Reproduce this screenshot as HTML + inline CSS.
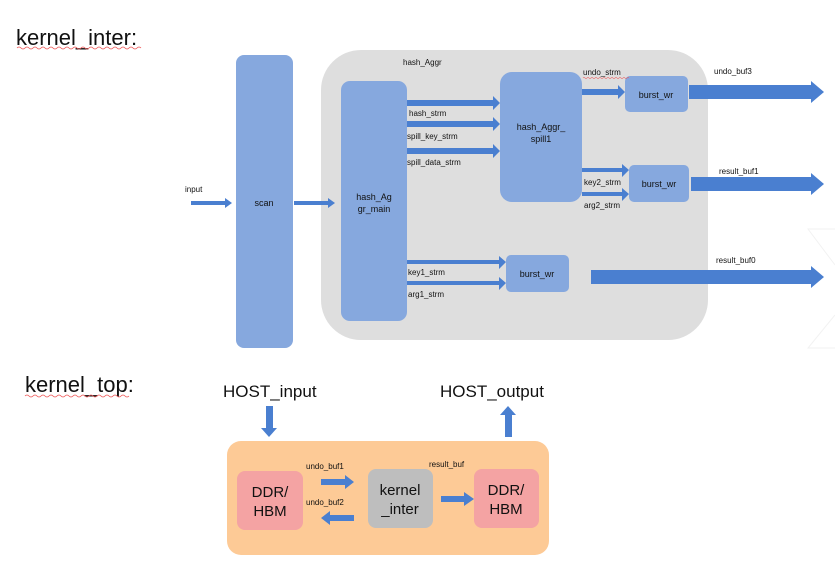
<!DOCTYPE html>
<html><head><meta charset="utf-8"><style>
html,body{margin:0;padding:0;background:#fff;}
svg{display:block;}
text{font-family:"Liberation Sans",Arial,sans-serif;fill:#111;}
</style></head><body>
<svg width="835" height="574" viewBox="0 0 835 574" xmlns="http://www.w3.org/2000/svg">
<text x="16" y="45" font-size="22">kernel_inter:</text>
<text x="25" y="392" font-size="22">kernel_top:</text>
<path d="M17 48 q2 -2 4 0 t4 0 t4 0 t4 0 t4 0 t4 0 t4 0 t4 0 t4 0 t4 0 t4 0 t4 0 t4 0 t4 0 t4 0 t4 0 t4 0 t4 0 t4 0 t4 0 t4 0 t4 0 t4 0 t4 0 t4 0 t4 0 t4 0 t4 0 t4 0 t4 0 t4 0" stroke="#e55" stroke-width="0.8" fill="none"/>
<path d="M25 396 q2 -2 4 0 t4 0 t4 0 t4 0 t4 0 t4 0 t4 0 t4 0 t4 0 t4 0 t4 0 t4 0 t4 0 t4 0 t4 0 t4 0 t4 0 t4 0 t4 0 t4 0 t4 0 t4 0 t4 0 t4 0 t4 0 t4 0" stroke="#e55" stroke-width="0.8" fill="none"/>

<rect x="321" y="50" width="387" height="290" rx="40" fill="#dedede"/>
<rect x="236" y="55" width="57" height="293" rx="8" fill="#86a8de"/>
<text x="264" y="206" font-size="9" text-anchor="middle">scan</text>
<rect x="341" y="81" width="66" height="240" rx="9" fill="#86a8de"/>
<text x="374" y="200" font-size="9" text-anchor="middle">hash_Ag</text>
<text x="374" y="212" font-size="9" text-anchor="middle">gr_main</text>
<rect x="500" y="72" width="82" height="130" rx="12" fill="#86a8de"/>
<text x="541" y="130" font-size="9" text-anchor="middle">hash_Aggr_</text>
<text x="541" y="142" font-size="9" text-anchor="middle">spill1</text>
<rect x="625" y="76" width="63" height="36" rx="5" fill="#86a8de"/>
<text x="656" y="98" font-size="9" text-anchor="middle">burst_wr</text>
<rect x="629" y="165" width="60" height="37" rx="5" fill="#86a8de"/>
<text x="659" y="187" font-size="9" text-anchor="middle">burst_wr</text>
<rect x="506" y="255" width="63" height="37" rx="5" fill="#86a8de"/>
<text x="537" y="277" font-size="9" text-anchor="middle">burst_wr</text>

<g fill="#4a7fd0">
<polygon points="191,201 225,201 225,198 232,203 225,208 225,205 191,205"/>
<polygon points="294,201 328,201 328,198 335,203 328,208 328,205 294,205"/>
<polygon points="407,100 493,100 493,96 500,103 493,110 493,106 407,106"/>
<polygon points="407,121 493,121 493,117 500,124 493,131 493,127 407,127"/>
<polygon points="407,148 493,148 493,144 500,151 493,158 493,154 407,154"/>
<polygon points="582,89 618,89 618,85 625,92 618,99 618,95 582,95"/>
<polygon points="582,168 622,168 622,164 629,170 622,177 622,172 582,172"/>
<polygon points="582,192 622,192 622,188 629,194 622,201 622,196 582,196"/>
<polygon points="407,260 499,260 499,256 506,262 499,269 499,264 407,264"/>
<polygon points="407,281 499,281 499,277 506,283 499,290 499,285 407,285"/>
<polygon points="689,85 811,85 811,81 824,92 811,103 811,99 689,99"/>
<polygon points="691,177 811,177 811,173 824,184 811,195 811,191 691,191"/>
<polygon points="591,270 811,270 811,266 824,277 811,288 811,284 591,284"/>
</g>

<g font-size="8">
<text x="403" y="65">hash_Aggr</text>
<text x="583" y="75">undo_strm</text>
<text x="714" y="74">undo_buf3</text>
<text x="719" y="174">result_buf1</text>
<text x="716" y="263">result_buf0</text>
<text x="409" y="116">hash_strm</text>
<text x="407" y="139">spill_key_strm</text>
<text x="407" y="165">spill_data_strm</text>
<text x="584" y="185">key2_strm</text>
<text x="584" y="208">arg2_strm</text>
<text x="408" y="275">key1_strm</text>
<text x="408" y="297">arg1_strm</text>
<text x="185" y="192">input</text>
</g>
<path d="M583 78 q1 -1.5 2 0 t2 0 t2 0 t2 0 t2 0 t2 0 t2 0 t2 0 t2 0 t2 0 t2 0 t2 0 t2 0 t2 0 t2 0 t2 0 t2 0 t2 0 t2 0 t2 0 t2 0 t2 0 t2 0" stroke="#e55" stroke-width="0.6" fill="none"/>

<polyline points="835,229 808,229 835,265" stroke="#f2f2f2" fill="none"/>
<polyline points="835,315 808,348 835,348" stroke="#f2f2f2" fill="none"/>

<text x="223" y="397" font-size="17">HOST_input</text>
<text x="440" y="397" font-size="17">HOST_output</text>
<rect x="227" y="441" width="322" height="114" rx="14" fill="#fdca96"/>
<rect x="237" y="471" width="66" height="59" rx="8" fill="#f4a3a3"/>
<text x="270" y="497" font-size="15" text-anchor="middle">DDR/</text>
<text x="270" y="516" font-size="15" text-anchor="middle">HBM</text>
<rect x="368" y="469" width="65" height="59" rx="8" fill="#bebebe"/>
<text x="400" y="495" font-size="15" text-anchor="middle">kernel</text>
<text x="400" y="514" font-size="15" text-anchor="middle">_inter</text>
<rect x="474" y="469" width="65" height="59" rx="8" fill="#f4a3a3"/>
<text x="506" y="495" font-size="15" text-anchor="middle">DDR/</text>
<text x="506" y="514" font-size="15" text-anchor="middle">HBM</text>
<g font-size="8">
<text x="306" y="469">undo_buf1</text>
<text x="306" y="505">undo_buf2</text>
<text x="429" y="467">result_buf</text>
</g>
<g fill="#4a7fd0">
<polygon points="266,406 273,406 273,428 277,428 269,437 261,428 266,428"/>
<polygon points="505,437 512,437 512,415 516,415 508,406 500,415 505,415"/>
<polygon points="321,479 345,479 345,475 354,482 345,489 345,485 321,485"/>
<polygon points="354,515 330,515 330,511 321,518 330,525 330,521 354,521"/>
<polygon points="441,496 464,496 464,492 474,499 464,506 464,502 441,502"/>
</g>
</svg>
</body></html>
